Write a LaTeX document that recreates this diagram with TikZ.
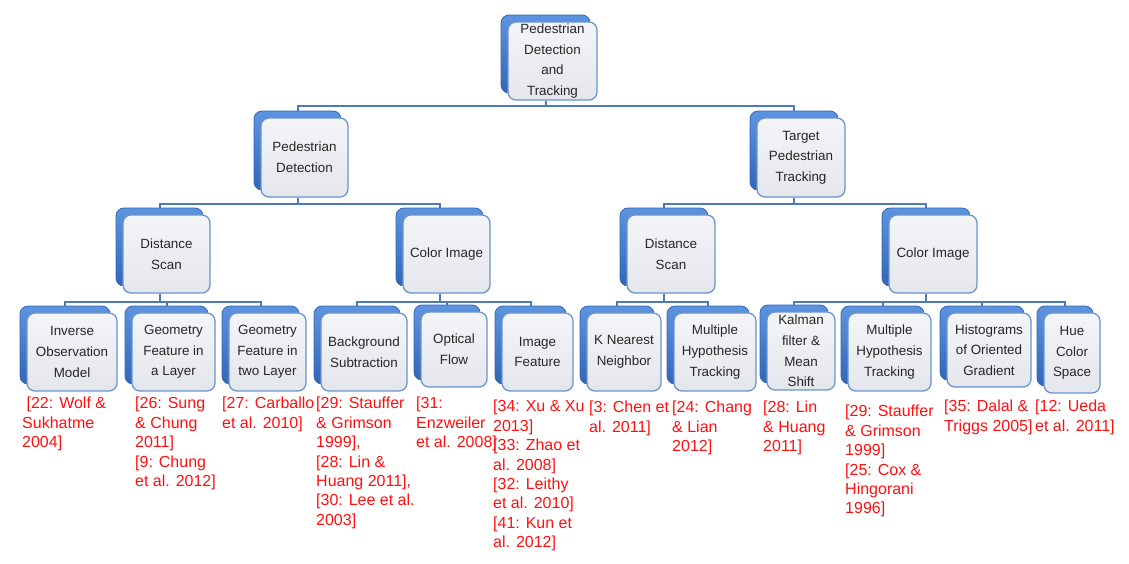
\documentclass[tikz,border=0pt]{standalone}
\usepackage{fontspec}
\setmainfont{Liberation Sans}
\usetikzlibrary{shadows,backgrounds}
\definecolor{backblue}{HTML}{3266B8}
\definecolor{backlight}{HTML}{5E94DE}
\definecolor{fronttop}{HTML}{F4F5F7}
\definecolor{frontbot}{HTML}{E3E6EB}
\definecolor{frontdraw}{HTML}{6A94CF}
\definecolor{connblue}{HTML}{4F7BB5}
\definecolor{reftext}{HTML}{FF1010}
\tikzset{
  box/.style={draw=frontdraw, line width=1.3pt, rounded corners=8pt,
    top color=fronttop, bottom color=frontbot, inner sep=0pt, align=center,
    text=black!85, font=\fontsize{13.4}{20.7}\selectfont,
    general shadow={shadow xshift=-7pt, shadow yshift=7pt,
      top color=backlight, bottom color=backblue, draw=backblue, line width=0.8pt}},
  ref/.style={anchor=north west, inner sep=0pt, align=left, text=reftext,
    font=\fontsize{16}{19.4}\selectfont},
  conn/.style={draw=connblue, line width=2pt},
}
\begin{document}
\begin{tikzpicture}[x=1pt,y=-1pt]
\useasboundingbox (0,0) rectangle (1129,563);
% level 1
\node[box, minimum width=89pt, minimum height=78pt] (top) at (552.5,61) {Pedestrian\\Detection\\and\\Tracking};
% level 2
\node[box, minimum width=87pt, minimum height=79pt] (pd) at (304.5,157.5) {Pedestrian\\Detection};
\node[box, minimum width=88pt, minimum height=79pt] (tpt) at (801,157.5) {Target\\Pedestrian\\Tracking};
% level 3
\node[box, minimum width=87pt, minimum height=78pt] (dsl) at (166.5,254) {Distance\\Scan};
\node[box, minimum width=87pt, minimum height=78pt] (cil) at (446.5,254) {Color Image};
\node[box, minimum width=88pt, minimum height=78pt] (dsr) at (671,254) {Distance\\Scan};
\node[box, minimum width=88pt, minimum height=78pt] (cir) at (933,254) {Color Image};
% level 4
\node[box, minimum width=90pt, minimum height=78pt] (iom) at (72,352) {Inverse\\Observation\\Model};
\node[box, minimum width=83pt, minimum height=78pt] (gfl) at (173.5,352) {Geometry\\Feature in\\a Layer};
\node[box, minimum width=77pt, minimum height=78pt] (gf2) at (267.5,352) {Geometry\\Feature in\\two Layer};
\node[box, minimum width=86pt, minimum height=78pt] (bs) at (364,352) {Background\\Subtraction};
\node[box, minimum width=66pt, minimum height=75pt] (of) at (454,349.5) {Optical\\Flow};
\node[box, minimum width=71pt, minimum height=78pt] (imf) at (537.5,352) {Image\\Feature};
\node[box, minimum width=74pt, minimum height=78pt] (knn) at (624,352) {K Nearest\\Neighbor};
\node[box, minimum width=82pt, minimum height=78pt] (mht) at (715,352) {Multiple\\Hypothesis\\Tracking};
\node[box, minimum width=68pt, minimum height=78pt] (kal) at (801,351) {Kalman\\filter \&\\Mean\\Shift};
\node[box, minimum width=83pt, minimum height=78pt] (mht2) at (889.5,352) {Multiple\\Hypothesis\\Tracking};
\node[box, minimum width=84pt, minimum height=74pt] (hog) at (989,350) {Histograms\\of Oriented\\Gradient};
\node[box, minimum width=56pt, minimum height=80pt] (hue) at (1072,353) {Hue\\Color\\Space};
% connectors
\begin{scope}[on background layer]
\foreach \c in {pd,tpt} \draw[conn] ([xshift=-7pt]top.south) -- ++(0,5) -| ([xshift=-7pt]\c.north);
\foreach \c in {dsl,cil} \draw[conn] ([xshift=-7pt]pd.south) -- ++(0,6) -| ([xshift=-7pt]\c.north);
\foreach \c in {dsr,cir} \draw[conn] ([xshift=-7pt]tpt.south) -- ++(0,6) -| ([xshift=-7pt]\c.north);
\foreach \c in {iom,gfl,gf2} \draw[conn] ([xshift=-7pt]dsl.south) -- ++(0,8) -| ([xshift=-7pt]\c.north);
\foreach \c in {bs,of,imf} \draw[conn] ([xshift=-7pt]cil.south) -- ++(0,8) -| ([xshift=-7pt]\c.north);
\foreach \c in {knn,mht} \draw[conn] ([xshift=-7pt]dsr.south) -- ++(0,8) -| ([xshift=-7pt]\c.north);
\foreach \c in {kal,mht2,hog,hue} \draw[conn] ([xshift=-7pt]cir.south) -- ++(0,8) -| ([xshift=-7pt]\c.north);
\end{scope}
% references
\node[ref] (r1) at (22,397) {\ [22: Wolf \&\\Sukhatme\\2004]};
\node[ref] (r2) at (135,397) {[26: Sung\\\& Chung\\2011]\\[0pt][9: Chung\\et al. 2012]};
\node[ref] (r3) at (222,397) {[27: Carballo\\et al. 2010]};
\node[ref] (r4) at (316,397) {[29: Stauffer\\\& Grimson\\1999],\\[0pt][28: Lin \&\\Huang 2011],\\[0pt][30: Lee et al.\\2003]};
\node[ref] (r5) at (416,397) {[31:\\Enzweiler\\et al. 2008]};
\node[ref] (r6) at (493,400) {[34: Xu \& Xu\\2013]\\[0pt][33: Zhao et\\al. 2008]\\[0pt][32: Leithy\\et al. 2010]\\[0pt][41: Kun et\\al. 2012]};
\node[ref] (r7) at (589,401) {[3: Chen et\\al. 2011]};
\node[ref] (r8) at (672,401) {[24: Chang\\\& Lian\\2012]};
\node[ref] (r9) at (763,401) {[28: Lin\\\& Huang\\2011]};
\node[ref] (r10) at (845,405) {[29: Stauffer\\\& Grimson\\1999]\\[0pt][25: Cox \&\\Hingorani\\1996]};
\node[ref] (r11) at (944,400) {[35: Dalal \&\\Triggs 2005]};
\node[ref] (r12) at (1035,400) {[12: Ueda\\et al. 2011]};
\end{tikzpicture}
\end{document}
